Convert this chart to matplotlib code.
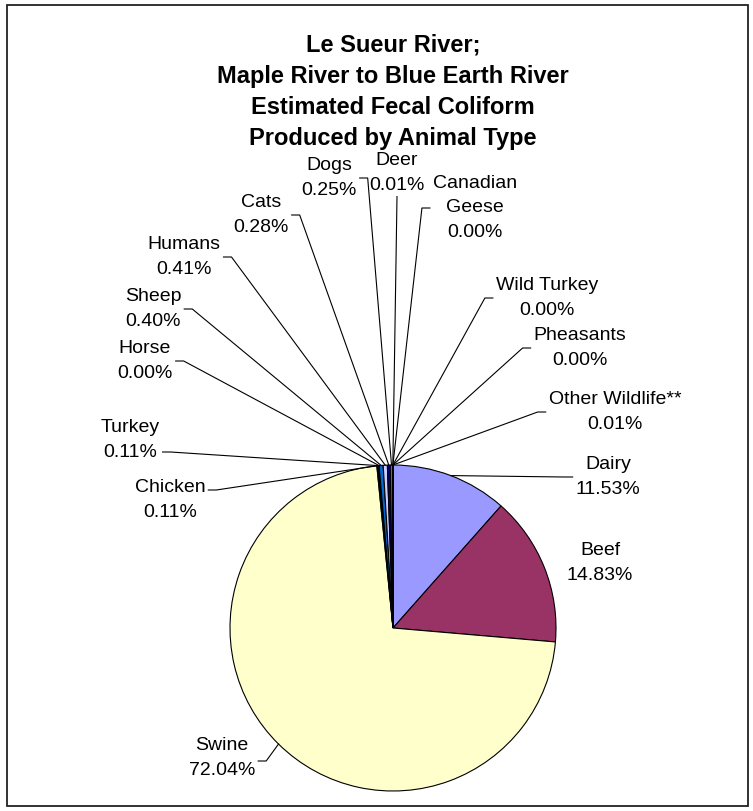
import numpy as np
import matplotlib.pyplot as plt
from matplotlib.patches import Rectangle

# percent share of fecal coliform by animal type (clockwise from 12 o'clock)
animals = ['Dairy', 'Beef', 'Swine', 'Chicken', 'Turkey', 'Horse', 'Sheep',
           'Humans', 'Cats', 'Dogs', 'Deer', 'Canadian\nGeese', 'Wild Turkey',
           'Pheasants', 'Other Wildlife**']
shares = [11.53, 14.83, 72.04, 0.11, 0.11, 0.00, 0.40,
          0.41, 0.28, 0.25, 0.01, 0.00, 0.00, 0.00, 0.01]
colors = ['#9999FF', '#993366', '#FFFFCC', '#CCFFFF', '#660066', '#FF8080',
          '#0066CC', '#CCCCFF', '#000080', '#FF00FF', '#FFFF00', '#00FFFF',
          '#800080', '#800000', '#008080']

title_lines = ['Le Sueur River;', 'Maple River to Blue Earth River',
               'Estimated Fecal Coliform', 'Produced by Animal Type']

# label centres in pixels (x, y from top), leader attach side and y offset
label_pos = {
    'Dairy': (608, 477, 'left', 0), 'Beef': (600, 563, None, 0),
    'Swine': (222, 758, 'right', 3), 'Chicken': (170, 500, 'right', -10),
    'Turkey': (130, 440, 'right', 12), 'Horse': (145, 361, 'right', 0),
    'Sheep': (153, 309, 'right', 0), 'Humans': (184, 257, 'right', 0),
    'Cats': (261, 215, 'right', 0), 'Dogs': (329, 178, 'right', 0),
    'Deer': (397, 173, 'bottom', 0), 'Canadian\nGeese': (475, 208, 'left', 0),
    'Wild Turkey': (547, 298, 'left', 0), 'Pheasants': (580, 348, 'left', 0),
    'Other Wildlife**': (615, 412, 'left', 0),
}

W, H = 753, 811
cx, cy, r = 393, 628, 163

plt.rcParams['font.family'] = ['Liberation Sans', 'DejaVu Sans']
fig = plt.figure(figsize=(W / 100, H / 100), dpi=100)
ax = fig.add_axes([0, 0, 1, 1])

# frame round the chart area
fig.patches.append(Rectangle((7 / W, 1 - 806 / H), 741 / W, 801 / H,
                             transform=fig.transFigure, fill=False,
                             edgecolor='#222222', linewidth=1.3))

# y axis is inverted afterwards, so counterclock=True ends up clockwise
ax.pie(shares, colors=colors, startangle=-90, counterclock=True,
       center=(cx, cy), radius=r, frame=True,
       wedgeprops=dict(edgecolor='black', linewidth=0.8))
ax.set_xlim(0, W)
ax.set_ylim(H, 0)
ax.set_aspect('equal')
ax.axis('off')

for i, line in enumerate(title_lines):
    ax.text(393, 45 + 31 * i, line, ha='center', va='center', fontsize=17,
            fontweight='bold')

fig.canvas.draw()
total = sum(shares)
cum = 0
for name, val in zip(animals, shares):
    mid = 90 - 360 * (cum + val / 2) / total
    cum += val
    lx, ly, side, dy = label_pos[name]
    txt = ax.text(lx, ly, f'{name}\n{val:.2f}%', ha='center', va='center',
                  fontsize=14, linespacing=1.55)
    if side is None:
        continue
    ex = cx + r * np.cos(np.radians(mid))
    ey = cy - r * np.sin(np.radians(mid))
    bb = txt.get_window_extent(fig.canvas.get_renderer())
    bb = bb.transformed(ax.transData.inverted())
    x0, x1 = sorted([bb.x0, bb.x1])
    py = ly + dy
    if side == 'right':
        px = x1 + 3
        ax.plot([px, px + 8, ex], [py, py, ey], color='black', lw=0.8)
    elif side == 'left':
        px = x0 - 3
        ax.plot([px, px - 8, ex], [py, py, ey], color='black', lw=0.8)
    else:
        y1 = max(bb.y0, bb.y1)
        ax.plot([lx, ex], [y1 + 3, ey], color='black', lw=0.8)

fig.savefig('out.png', dpi=100)
